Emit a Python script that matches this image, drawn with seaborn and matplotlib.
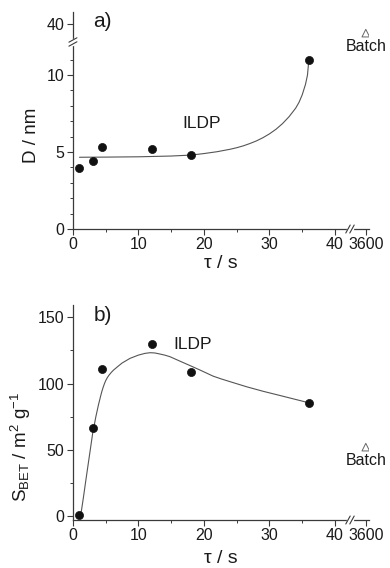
import numpy as np
import pandas as pd
import matplotlib
matplotlib.use("Agg")
import matplotlib.pyplot as plt
import seaborn as sns

# ---------------- data ----------------
tau_s = [1, 3, 4.5, 12, 18, 36]
d_nm = [3.95, 4.4, 5.3, 5.2, 4.8, 10.95]
s_bet = [0.8, 66.4, 110.7, 130.2, 108.5, 85.1]

batch_tau = [3600]
batch_d = [39.4]
batch_s = [52]

fit_d_tau = [1, 5, 10, 15, 18, 20, 22, 24, 25, 26, 27, 28, 29, 30, 31, 32, 33, 34,
             34.5, 35, 35.5, 35.8, 36]
fit_d = [4.66, 4.67, 4.69, 4.74, 4.80, 4.90, 5.02, 5.18, 5.28, 5.40, 5.55, 5.72,
         5.93, 6.18, 6.48, 6.85, 7.30, 7.85, 8.22, 8.72, 9.40, 10.0, 10.95]

fit_s_tau = [1.2, 1.6, 2, 2.5, 3, 3.5, 3.9, 4.0, 4.2, 4.4, 4.6, 4.8, 5.0, 5.25, 5.5,
             5.85, 6.2, 7, 7.5, 8.7, 10, 11, 11.8, 12.5, 13, 14, 14.8, 16.3, 18, 19.4,
             21.4, 22.7, 24, 26.5, 29, 31.6, 34, 36]
fit_s = [0.8, 14, 28, 45, 62, 75, 84, 86, 90, 93.8, 97, 99.8, 102.2, 104.5, 106.3,
         108.4, 110.2, 113.5, 115.5, 119, 121.5, 122.8, 123.3, 123.1, 122.6, 121.5,
         120.3, 117, 113.3, 110.2, 105.6, 103.4, 101.4, 97.6, 94.2, 91.0, 88.0, 85.5]

x_major = [0, 10, 20, 30, 40, 3600]
x_labels = ["0", "10", "20", "30", "40", "3600"]
x_minor = [5, 15, 25, 35]
yd_major = [0, 5, 10, 40]
yd_labels = ["0", "5", "10", "40"]
yd_minor = [1, 2, 3, 4, 6, 7, 8, 9, 11]
ys_major = [0, 50, 100, 150]
ys_labels = ["0", "50", "100", "150"]
ys_minor = [25, 75, 125]

# ---------------- style ----------------
sns.set_style("ticks")
plt.rcParams["font.family"] = ["Liberation Sans", "DejaVu Sans"]
plt.rcParams["mathtext.fontset"] = "custom"
plt.rcParams["mathtext.rm"] = "Liberation Sans"
plt.rcParams["mathtext.it"] = "Liberation Sans"
AX_COL = "#3a3a3a"
TXT_COL = "#1a1a1a"

# broken-axis scales
def fx(x):
    x = np.asarray(x, float)
    return np.where(x <= 42, x,
                    np.where(x < 3590, 42 + (x - 42) * (1.5 / 3548), 43.5 + (x - 3590) * 0.12))

def fx_inv(t):
    t = np.asarray(t, float)
    return np.where(t <= 42, t,
                    np.where(t < 43.5, 42 + (t - 42) * (3548 / 1.5), 3590 + (t - 43.5) / 0.12))

A, B, G = 12.1, 38.8, 0.02

def fy(y):
    y = np.asarray(y, float)
    return np.where(y <= A, y,
                    np.where(y < B, A + (y - A) * G / (B - A), A + G + (y - B)))

def fy_inv(t):
    t = np.asarray(t, float)
    return np.where(t <= A, t,
                    np.where(t < A + G, A + (t - A) * (B - A) / G, B + (t - A - G)))

fig = plt.figure(figsize=(3.9, 5.68), dpi=100)
ax1 = fig.add_axes([0.187, 0.5968, 0.759, 0.382])
ax2 = fig.add_axes([0.187, 0.0845, 0.759, 0.3785])

df_pts = pd.DataFrame({"tau": tau_s, "D": d_nm, "S": s_bet})
df_fd = pd.DataFrame({"tau": fit_d_tau, "D": fit_d})
df_fs = pd.DataFrame({"tau": fit_s_tau, "S": fit_s})
df_b = pd.DataFrame({"tau": batch_tau, "D": batch_d, "S": batch_s})


def style_axis(ax, ymaj, ylab, ymin):
    for s in ["top", "right"]:
        ax.spines[s].set_visible(False)
    for s in ["left", "bottom"]:
        ax.spines[s].set_color(AX_COL)
        ax.spines[s].set_linewidth(0.9)
    ax.set_xticks(x_major)
    ax.set_xticklabels(x_labels)
    ax.set_xticks(x_minor, minor=True)
    ax.set_yticks(ymaj)
    ax.set_yticklabels(ylab)
    ax.set_yticks(ymin, minor=True)
    ax.tick_params(which="major", direction="out", length=4, width=0.8,
                   color=AX_COL, labelsize=11.5, labelcolor=TXT_COL, pad=2)
    ax.tick_params(which="minor", direction="out", length=2.2, width=0.7, color=AX_COL)


# ---------- panel a ----------
ax1.set_xscale("function", functions=(fx, fx_inv))
ax1.set_yscale("function", functions=(fy, fy_inv))
sns.lineplot(data=df_fd, x="tau", y="D", ax=ax1, color="#555555", lw=0.8,
             sort=False, estimator=None)
sns.scatterplot(data=df_pts, x="tau", y="D", ax=ax1, color="#111111", s=34,
                edgecolor="#111111", linewidth=0.5, zorder=3)
sns.scatterplot(data=df_b, x="tau", y="D", ax=ax1, marker="^", s=30,
                facecolor="none", edgecolor="#666666", linewidth=0.7, zorder=3)
ax1.set_xlim(0, 3604)
ax1.set_ylim(0, 40.77)
style_axis(ax1, yd_major, yd_labels, yd_minor)
ax1.set_xlabel("τ / s", fontsize=14, color=TXT_COL, labelpad=2)
ax1.set_ylabel("D / nm", fontsize=13.5, color=TXT_COL)
ax1.yaxis.set_label_coords(-0.11, 0.43)
ax1.text(0.10, 0.955, "a)", transform=ax1.transAxes, fontsize=15,
         ha="center", va="center", color=TXT_COL)
ax1.text(19.6, 6.86, "ILDP", fontsize=12.5, ha="center", va="center", color=TXT_COL)
ax1.annotate("Batch", xy=(batch_tau[0], batch_d[0]), xytext=(0, -4),
             textcoords="offset points", ha="center", va="top", fontsize=11.5,
             color=TXT_COL, annotation_clip=False)

# ---------- panel b ----------
ax2.set_xscale("function", functions=(fx, fx_inv))
sns.lineplot(data=df_fs, x="tau", y="S", ax=ax2, color="#555555", lw=0.8,
             sort=False, estimator=None)
sns.scatterplot(data=df_pts, x="tau", y="S", ax=ax2, color="#111111", s=34,
                edgecolor="#111111", linewidth=0.5, zorder=3)
sns.scatterplot(data=df_b, x="tau", y="S", ax=ax2, marker="^", s=30,
                facecolor="none", edgecolor="#666666", linewidth=0.7, zorder=3)
ax2.set_xlim(0, 3604)
ax2.set_ylim(-3, 159.3)
style_axis(ax2, ys_major, ys_labels, ys_minor)
ax2.set_xlabel("τ / s", fontsize=14, color=TXT_COL, labelpad=5)
ax2.set_ylabel(r"S$_{\mathrm{BET}}$ / m$^{2}$ g$^{-1}$", fontsize=13.5, color=TXT_COL)
ax2.yaxis.set_label_coords(-0.135, 0.34)
ax2.text(0.10, 0.949, "b)", transform=ax2.transAxes, fontsize=15,
         ha="center", va="center", color=TXT_COL)
ax2.text(18.2, 129.8, "ILDP", fontsize=12.5, ha="center", va="center", color=TXT_COL)
ax2.annotate("Batch", xy=(batch_tau[0], batch_s[0]), xytext=(0, -4),
             textcoords="offset points", ha="center", va="top", fontsize=11.5,
             color=TXT_COL, annotation_clip=False)

for ax in (ax1, ax2):
    leg = ax.get_legend()
    if leg is not None:
        leg.remove()


# ---------- break marks ----------
def xbreak(ax, frac):
    w_px = ax.bbox.width
    h_px = ax.bbox.height
    dx = 2.2 / w_px
    dy = 4.0 / h_px
    gap = 2.0 / w_px
    ax.plot([frac - gap, frac + gap], [0, 0], transform=ax.transAxes,
            color="white", lw=2.5, clip_on=False, zorder=5)
    for off in (-gap, gap):
        ax.plot([frac + off - dx, frac + off + dx], [-dy, dy], transform=ax.transAxes,
                color=AX_COL, lw=0.8, clip_on=False, zorder=6)


def ybreak(ax, frac):
    w_px = ax.bbox.width
    h_px = ax.bbox.height
    dx = 4.0 / w_px
    dy = 2.2 / h_px
    gap = 2.0 / h_px
    ax.plot([0, 0], [frac - gap, frac + gap], transform=ax.transAxes,
            color="white", lw=2.5, clip_on=False, zorder=5)
    for off in (-gap, gap):
        ax.plot([-dx, dx], [frac + off - dy, frac + off + dy], transform=ax.transAxes,
                color=AX_COL, lw=0.8, clip_on=False, zorder=6)


xbreak(ax1, 0.936)
xbreak(ax2, 0.936)
ybreak(ax1, 0.862)

fig.savefig("out.png", dpi=100)
